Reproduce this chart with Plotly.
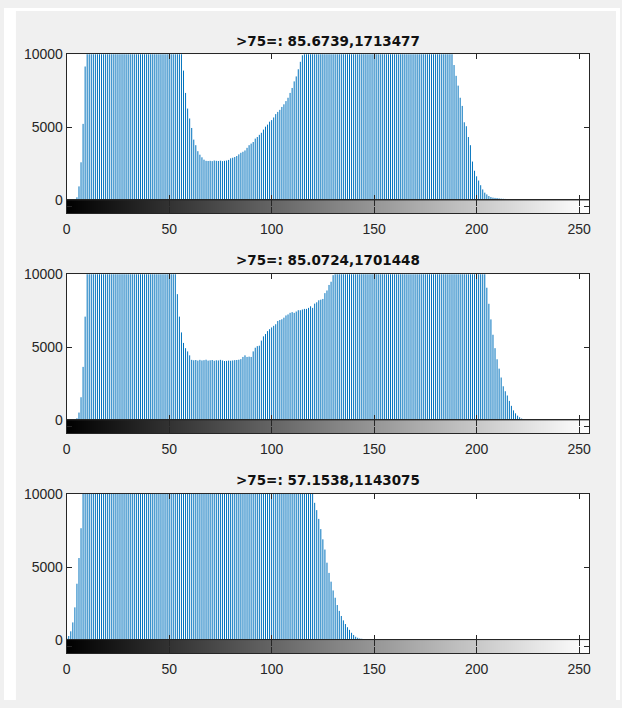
import plotly.graph_objects as go

# ---------------- data ----------------
bins = list(range(256))
tick_vals_x = [0, 50, 100, 150, 200, 250]
tick_vals_y = [0, 5000, 10000]
tick_text_y = ["0", "5000", "10000"]
titles = [">75=: 85.6739,1713477", ">75=: 85.0724,1701448", ">75=: 57.1538,1143075"]

h1 = [0, 0, 0, 0, 0, 200, 950, 2600, 5230, 9160,
      13800, 15200, 16900, 18100, 18800, 19500, 20100, 20600, 21000, 21300,
      21500, 21700, 21800, 21900, 21800, 21700, 21600, 21400, 21300, 21100,
      20900, 20700, 20500, 20300, 20100, 19900, 19700, 19400, 19200, 18900,
      18600, 18300, 18000, 17700, 17300, 16900, 16500, 16000, 15500, 15000,
      14400, 13800, 13200, 12600, 12000, 11400, 10700,
      8880, 7350, 6280, 5600, 4950, 4150, 3770, 3360, 3120, 2940,
      2780, 2700, 2690, 2700, 2680, 2720, 2700, 2690, 2710, 2680,
      2700, 2720, 2760, 2870, 2910, 2960, 3030, 3140, 3250, 3320,
      3410, 3590, 3770, 3880, 3990, 4220, 4330, 4480, 4620, 4840,
      5040, 5180, 5380, 5490, 5670, 5900, 6050, 6190, 6390, 6570,
      6790, 7020, 7350, 7690, 8140, 8480, 8970, 9480, 9930,
      10600, 11300, 12100, 12900, 13700, 14500, 15300, 16000, 16700, 17300,
      17900, 18400, 18900, 19300, 19700, 20000, 20300, 20600, 20800, 21000,
      21200, 21300, 21400, 21500, 21600, 21600, 21700, 21700, 21700, 21600,
      21600, 21500, 21500, 21400, 21300, 21200, 21100, 21000, 20800, 20600,
      20400, 20200, 20000, 19700, 19400, 19100, 18800, 18400, 18000, 17600,
      17200, 16700, 16200, 15700, 15200, 14700, 14200, 13700, 13200, 12700,
      12300, 11900, 11500, 11200, 10900, 10700, 10500, 10400, 10300, 10200,
      10150, 10100, 10050,
      9260, 8520, 7850, 7020, 6460, 5340, 5070, 4330, 3770, 2650,
      2020, 1640, 1350, 1030, 740, 520, 400, 290, 220, 180,
      160, 150, 130, 110, 100, 90, 70, 50, 30, 20, 10,
      0, 0, 0, 0, 0, 0, 0, 0, 0, 0, 0, 0, 0, 0, 0, 0, 0, 0,
      0, 0, 0, 0, 0, 0, 0, 0, 0, 0, 0, 0, 0, 0, 0, 0, 0, 0]

h2 = [0, 0, 0, 0, 0, 130, 520, 1570, 3650, 7090,
      12500, 14600, 16300, 17600, 18600, 19400, 20000, 20500, 20800, 21000,
      21200, 21300, 21300, 21200, 21100, 21000, 20800, 20600, 20400, 20200,
      20000, 19700, 19400, 19100, 18800, 18400, 18000, 17600, 17200, 16700,
      16200, 15700, 15200, 14700, 14200, 13600, 13000, 12400, 11900, 11400,
      11000, 10700, 10400, 10200,
      8630, 7090, 6010, 5290, 4930, 4710, 4440, 4130, 4100, 4120,
      4080, 4130, 4090, 4110, 4140, 4080, 4100, 4120, 4070, 4100,
      4090, 4130, 4090, 4050, 4060, 4080, 4070, 4090, 4110, 4120,
      4140, 4180, 4330, 4440, 4330, 4350, 4330, 4710, 4960, 5070,
      5100, 5450, 5740, 5900, 6100, 6230, 6350, 6460, 6570, 6790,
      6860, 6910, 7020, 7170, 7240, 7350, 7400, 7350, 7440, 7530,
      7530, 7580, 7620, 7620, 7690, 7800, 7690, 7980, 8070, 8210,
      8250, 8300, 8700, 8880, 9260, 9480, 9930,
      10400, 11000, 11700, 12400, 13200, 14000, 14800, 15500, 16200, 16800,
      17400, 17900, 18400, 18800, 19200, 19500, 19800, 20100, 20300, 20500,
      20700, 20800, 20900, 21000, 21000, 21100, 21100, 21100, 21000, 21000,
      20900, 20900, 20800, 20700, 20600, 20500, 20400, 20200, 20100, 19900,
      19700, 19500, 19300, 19100, 18900, 18600, 18300, 18000, 17700, 17400,
      17000, 16600, 16200, 15800, 15400, 15000, 14600, 14200, 13800, 13400,
      13000, 12600, 12300, 12000, 11700, 11400, 11200, 11000, 10800, 10600,
      10500, 10400, 10300, 10200,
      9070, 7970, 6900, 5850, 4930, 4170, 3530, 2920, 2320, 1980,
      1690, 1320, 980, 670, 470, 310, 200, 110, 30,
      0, 0, 0, 0, 0, 0, 0, 0, 0, 0, 0, 0, 0, 0, 0, 0,
      0, 0, 0, 0, 0, 0, 0, 0, 0, 0, 0, 0, 0, 0, 0, 0]

h3 = [140, 280, 600, 1210, 2240, 3860, 5620, 7660,
      10800, 12000, 13000, 13800, 14400, 14900, 15300, 15600, 15900, 16100,
      16300, 16500, 16700, 16900, 17100, 17300, 17500, 17700, 17900, 18100,
      18300, 18500, 18700, 18900, 19100, 19300, 19500, 19700, 19900, 20100,
      20300, 20500, 20700, 20900, 21100, 21300, 21500, 21700, 21900, 22100,
      22300, 22500, 22700, 22900, 23100, 23300, 23500, 23700, 23900, 24100,
      24300, 24500, 24600, 24700, 24800, 24900, 25000, 25000, 25000, 25000,
      24900, 24800, 24700, 24600, 24500, 24300, 24100, 23900, 23700, 23500,
      23200, 22900, 22600, 22300, 22000, 21600, 21200, 20800, 20400, 20000,
      19600, 19200, 18800, 18400, 18000, 17600, 17200, 16800, 16400, 16000,
      15600, 15200, 14800, 14400, 14000, 13600, 13300, 13000, 12700, 12400,
      12100, 11800, 11600, 11400, 11200, 11000, 10800, 10600, 10500, 10400,
      10300, 10200, 10100,
      9400, 8900, 8300, 7600, 6900, 6200, 5300, 4600, 4000, 3400,
      2900, 2400, 2000, 1650, 1350, 1100, 880, 700, 500, 350,
      230, 160, 110, 90, 60, 40, 20,
      0, 0, 0, 0, 0, 0, 0, 0, 0, 0, 0, 0, 0, 0, 0, 0, 0, 0,
      0, 0, 0, 0, 0, 0, 0, 0, 0, 0, 0, 0, 0, 0, 0, 0, 0, 0,
      0, 0, 0, 0, 0, 0, 0, 0, 0, 0, 0, 0, 0, 0, 0, 0, 0, 0,
      0, 0, 0, 0, 0, 0, 0, 0, 0, 0, 0, 0, 0, 0, 0, 0, 0, 0,
      0, 0, 0, 0, 0, 0, 0, 0, 0, 0, 0, 0, 0, 0, 0, 0, 0, 0,
      0, 0, 0, 0, 0, 0, 0, 0, 0, 0, 0, 0, 0, 0, 0, 0, 0, 0]

hists = [h1, h2, h3]
for h in hists:
    assert len(h) == 256, len(h)

# ---------------- layout helpers (fractions of the 622x708 reference) ----------------
W, H = 622, 708
STEM = "#0072BD"
AX = "#262626"
FONT = "Liberation Sans"


def fx(p):
    return p / W


def fy(p):
    return 1 - p / H


X0, X1 = 63.3, 591.0
PANEL_DY = 225
TOP0, MID0, BOT0 = 47.3, 196.7, 209.8
TITLE0 = 33.3

fig = go.Figure()
layout = dict(
    autosize=True,
    margin=dict(l=0, r=0, t=0, b=0, pad=0),
    paper_bgcolor="#f0f0f0",
    plot_bgcolor="white",
    showlegend=False,
    annotations=[],
    shapes=[
        dict(type="rect", xref="paper", yref="paper", x0=0, x1=fx(12), y0=0, y1=1,
             fillcolor="white", line=dict(width=0), layer="below"),
        dict(type="rect", xref="paper", yref="paper", x0=0, x1=1, y0=fy(3), y1=1,
             fillcolor="white", line=dict(width=0), layer="below"),
        dict(type="rect", xref="paper", yref="paper", x0=fx(618), x1=1, y0=0, y1=1,
             fillcolor="white", line=dict(width=0), layer="below"),
    ],
)

tickfont = dict(family=FONT, size=14, color=AX)

for k, h in enumerate(hists):
    top = TOP0 + PANEL_DY * k
    mid = MID0 + PANEL_DY * k
    bot = BOT0 + PANEL_DY * k
    ia = 2 * k + 1
    ib = 2 * k + 2

    # stems
    sx, sy = [], []
    for b, v in zip(bins, h):
        sx += [b, b, None]
        sy += [0, v, None]
    fig.add_trace(go.Scatter(x=sx, y=sy, mode="lines",
                             line=dict(color=STEM, width=1),
                             xaxis=f"x{ia}", yaxis=f"y{ia}", hoverinfo="skip"))

    # grey-level bar
    fig.add_trace(go.Heatmap(x=bins, y=[0], z=[bins], zmin=0, zmax=255,
                             colorscale=[[0, "black"], [1, "white"]],
                             showscale=False, xaxis=f"x{ib}", yaxis=f"y{ib}",
                             hoverinfo="skip"))

    common = dict(showline=True, linecolor=AX, linewidth=1, mirror="allticks",
                  ticks="inside", tickcolor=AX, tickwidth=1, showgrid=False,
                  zeroline=False, fixedrange=True)

    layout[f"xaxis{ia}"] = dict(common, domain=[fx(X0), fx(X1)], range=[0, 255],
                                tickvals=tick_vals_x, ticklen=5,
                                showticklabels=False, anchor=f"y{ia}")
    layout[f"yaxis{ia}"] = dict(common, domain=[fy(mid), fy(top)], range=[0, 10000],
                                tickvals=tick_vals_y, ticktext=tick_text_y,
                                ticklen=5, tickfont=tickfont, anchor=f"x{ia}")
    layout[f"xaxis{ib}"] = dict(common, domain=[fx(X0), fx(X1)], range=[0, 255],
                                tickvals=tick_vals_x, ticklen=6, tickfont=tickfont,
                                ticklabelstandoff=3, anchor=f"y{ib}")
    layout[f"yaxis{ib}"] = dict(common, domain=[fy(bot), fy(mid)], range=[-0.5, 0.5],
                                tickvals=[0], ticklen=5, showticklabels=False,
                                anchor=f"x{ib}")

    layout["annotations"].append(dict(
        text=titles[k], xref="paper", yref="paper",
        x=fx((X0 + X1) / 2), y=fy(TITLE0 + PANEL_DY * k),
        xanchor="center", yanchor="middle", showarrow=False,
        font=dict(family="DejaVu Sans", size=13.5, color="#111111", weight="bold")))

fig.update_layout(**layout)
fig.write_html(
    "out.html",
    default_width="100vw",
    default_height="100vh",
    config={"displayModeBar": False, "staticPlot": True, "responsive": True},
    post_script=(
        "document.documentElement.style.overflow='hidden';"
        "document.documentElement.style.margin='0';"
        "document.body.style.margin='0';"
        "document.body.style.padding='0';"
        "document.body.style.overflow='hidden';"
        "var gd=document.getElementById('{plot_id}');"
        "gd.style.position='fixed';gd.style.left='0px';gd.style.top='0px';"
        "gd.style.width='100vw';gd.style.height='100vh';"
        "Plotly.Plots.resize(gd);"
    ),
)
